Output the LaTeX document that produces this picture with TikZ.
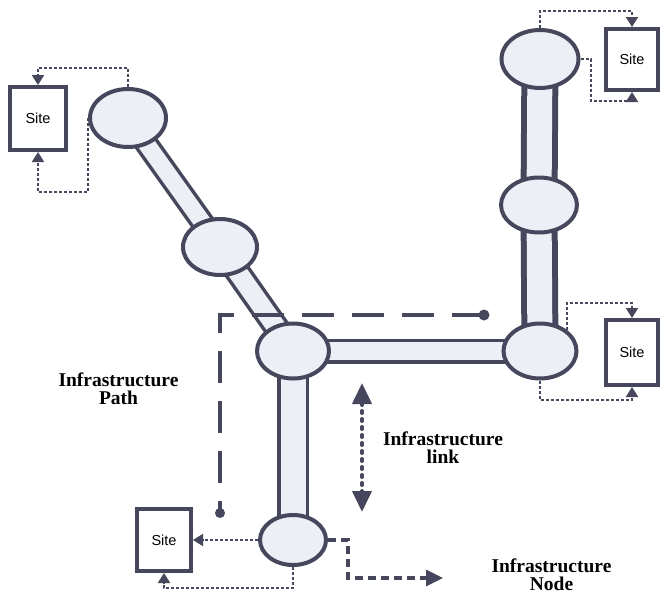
\documentclass[tikz,border=0pt]{standalone}
\usepackage{fontspec}
\setmainfont{Liberation Serif}
\newfontfamily\sitefont{Liberation Sans}
\usetikzlibrary{shapes.geometric,arrows.meta,backgrounds,calc}
\definecolor{ink}{HTML}{46465C}
\definecolor{pale}{HTML}{ECEFF5}

\begin{document}
\begin{tikzpicture}[x=1pt,y=-1pt,
  hub/.style={ellipse,draw=ink,fill=pale,line width=4pt,inner sep=0pt},
  site/.style={rectangle,draw=ink,fill=white,line width=4pt,inner sep=0pt,
    font=\sitefont\fontsize{14.5}{16}\selectfont},
  linkbar/.style={draw=ink,line width=3.5pt,double=pale,double distance=#1},
  heavybar/.style={draw=ink,line width=6pt,double=pale,double distance=25pt},
  feed/.style={draw=ink,line width=2pt,dash pattern=on 3pt off 2pt,
    -{Triangle[width=12pt,length=10pt]}},
  pathline/.style={draw=ink,line width=3.5pt,dash pattern=on 32pt off 18pt},
  nodearrow/.style={draw=ink,line width=3.2pt,dash pattern=on 8pt off 5pt,
    -{Triangle[width=16pt,length=17pt]}},
  linkarrow/.style={draw=ink,line width=4pt,line cap=round,dash pattern=on 2pt off 6pt,
    {Triangle[width=19pt,length=21pt]}-{Triangle[width=19pt,length=21pt]}},
  caption/.style={align=center,inner sep=0pt,
    font=\bfseries\fontsize{19.5}{18}\selectfont}
]
\useasboundingbox (0,0) rectangle (662,595);

% infrastructure nodes
\node[hub,minimum width=76pt,minimum height=58pt] (N1) at (128,118) {};
\node[hub,minimum width=74pt,minimum height=56pt] (N2) at (220,247) {};
\node[hub,minimum width=72pt,minimum height=55pt] (N3) at (293,351) {};
\node[hub,minimum width=77pt,minimum height=58pt] (N4) at (540,59) {};
\node[hub,minimum width=76pt,minimum height=55pt] (N5) at (539,205) {};
\node[hub,minimum width=73pt,minimum height=55pt] (N6) at (540,351) {};
\node[hub,minimum width=66pt,minimum height=50pt] (N7) at (293,540) {};

% sites
\node[site,minimum width=56pt,minimum height=63pt] (S1) at (38,118.5) {Site};
\node[site,minimum width=52pt,minimum height=61pt] (S2) at (632,59.5) {Site};
\node[site,minimum width=52pt,minimum height=65pt] (S3) at (632,352.5) {Site};
\node[site,minimum width=54pt,minimum height=62pt] (S4) at (164,540) {Site};

% infrastructure links
\begin{scope}[on background layer]
  \draw[linkbar=17pt] (N1.center) -- (N2.center);
  \draw[linkbar=19pt] (N2.center) -- (N3.center);
  \draw[linkbar=18pt] (N3.center) -- (N6.center);
  \draw[linkbar=25pt] (N3.center) -- (N7.center);
  \draw[heavybar] (N4.center) -- (N5.center);
  \draw[heavybar] (N5.center) -- (N6.center);
\end{scope}

% site attachments
\draw[feed] (N1.north) -- ++(0,-19) -| (S1.north);
\draw[feed] (N1.west) -- ++(0,74) -| (S1.south);
\draw[feed] (N4.north) -- ++(0,-17) -| (S2.north);
\draw[feed] (N4.east) -- ++(10,0) -- ++(0,42) -| (S2.south);
\draw[feed] (N6.north east) -- ++(0,-27) -| (S3.north);
\draw[feed] (N6.south) -- ++(0,19) -| (S3.south);
\draw[feed] (N7.west) -- (S4.east);
\draw[feed] (N7.south) -- ++(0,21) -| (S4.south);

% infrastructure path
\coordinate (pathA) at (484,315);
\coordinate (pathB) at (220,513);
\draw[pathline] (pathA) -| (pathB);
\fill[ink] (pathA) circle (5.5);
\fill[ink] (pathB) circle (5);

% link marker
\coordinate (linktop) at (362,383);
\coordinate (linkbot) at (362,512);
\draw[linkarrow] (linktop) -- (linkbot);

% node marker
\coordinate (nodetip) at (443,578);
\draw[nodearrow] (N7.east) -- ++(20,0) |- (nodetip);

% captions
\node[caption] (capPath) at (118.5,389) {Infrastructure\\Path};
\node[caption] (capLink) at (443,448) {Infrastructure\\link};
\node[caption] (capNode) at (551.5,575) {Infrastructure\\Node};
\end{tikzpicture}
\end{document}
